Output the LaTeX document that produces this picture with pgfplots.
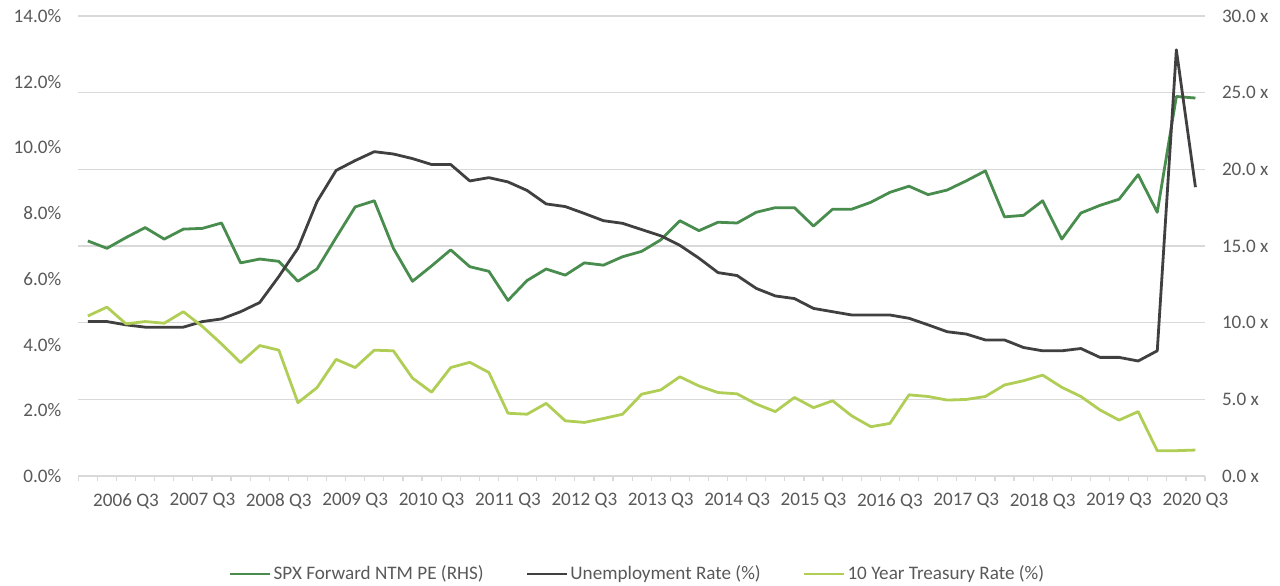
\documentclass[border=0pt]{standalone}
\usepackage{pgfplots}
\usepackage{pgfplotstable}
\pgfplotsset{compat=1.18}
\usepackage{fontspec}
\setmainfont{Carlito}
\definecolor{spx}{RGB}{72,140,78}
\definecolor{unemp}{RGB}{64,64,64}
\definecolor{tsy}{RGB}{176,206,85}
\definecolor{lbl}{RGB}{89,89,89}
\definecolor{grd}{RGB}{217,217,217}

\pgfplotstableread{
i spx unemp tsy
0 15.33 4.70 4.87
1 14.85 4.70 5.14
2 15.55 4.60 4.63
3 16.20 4.53 4.70
4 15.45 4.53 4.65
5 16.10 4.53 5.00
6 16.15 4.70 4.55
7 16.50 4.78 4.02
8 13.90 5.00 3.45
9 14.15 5.28 3.97
10 14.00 6.07 3.83
11 12.70 6.93 2.23
12 13.50 8.35 2.69
13 15.55 9.30 3.55
14 17.55 9.60 3.30
15 17.95 9.87 3.83
16 14.85 9.80 3.81
17 12.70 9.66 2.98
18 13.70 9.48 2.55
19 14.75 9.48 3.30
20 13.65 8.98 3.46
21 13.35 9.08 3.15
22 11.45 8.95 1.91
23 12.75 8.69 1.88
24 13.50 8.28 2.21
25 13.10 8.20 1.68
26 13.90 7.99 1.63
27 13.75 7.77 1.75
28 14.30 7.69 1.88
29 14.65 7.50 2.49
30 15.40 7.31 2.62
31 16.65 7.02 3.02
32 16.00 6.63 2.74
33 16.55 6.19 2.54
34 16.50 6.10 2.50
35 17.20 5.71 2.19
36 17.50 5.48 1.96
37 17.50 5.40 2.39
38 16.30 5.10 2.08
39 17.40 5.00 2.29
40 17.40 4.90 1.83
41 17.85 4.90 1.50
42 18.50 4.90 1.60
43 18.90 4.80 2.47
44 18.35 4.60 2.42
45 18.65 4.39 2.31
46 19.25 4.32 2.33
47 19.90 4.14 2.42
48 16.90 4.14 2.77
49 17.00 3.91 2.90
50 17.95 3.81 3.07
51 15.45 3.81 2.70
52 17.15 3.88 2.42
53 17.65 3.61 2.01
54 18.05 3.61 1.70
55 19.65 3.50 1.96
56 17.20 3.81 0.77
57 24.75 12.97 0.77
58 24.65 8.79 0.79
}\data

\begin{document}
\begin{tikzpicture}
\path[use as bounding box] (0,0) rectangle (640bp,293bp);
% right axis (SPX, gridlines, x axis, legend)
\begin{axis}[
  at={(39.15bp,55bp)}, anchor=south west,
  scale only axis, width=563.35bp, height=230bp,
  xmin=-0.5, xmax=58.5, ymin=0, ymax=30,
  axis x line*=bottom, axis y line*=right,
  x axis line style={draw=grd, line width=0.6bp, -},
  y axis line style={draw=none},
  xtick={2,6,...,58},
  xticklabels={2006 Q3,2007 Q3,2008 Q3,2009 Q3,2010 Q3,2011 Q3,2012 Q3,2013 Q3,2014 Q3,2015 Q3,2016 Q3,2017 Q3,2018 Q3,2019 Q3,2020 Q3},
  minor xtick={-0.5,0.5,...,58.5},
  tick align=outside,
  major x tick style={draw=none},
  minor x tick style={draw=grd, line width=0.6bp},
  minor tick length=2.5bp, major tick length=0pt,
  ytick={0,5,...,30},
  yticklabels={0.0 x,5.0 x,10.0 x,15.0 x,20.0 x,25.0 x,30.0 x},
  y tick style={draw=none},
  ymajorgrids, grid style={draw=grd, line width=0.6bp},
  tick label style={font=\fontsize{9.6}{11}\selectfont, text=lbl},
  xticklabel style={anchor=north, inner sep=0pt, yshift=-8.5bp},
  yticklabel style={anchor=west, inner sep=0pt, xshift=8.3bp},
  legend columns=3,
  legend style={at={(0.4963,-0.213)}, anchor=center, draw=none, fill=none,
    font=\fontsize{9.6}{11}\selectfont, text=lbl, inner sep=0pt,
    nodes={inner sep=1bp},
    /tikz/every even column/.append style={column sep=20bp}},
  legend image code/.code={\draw[#1] (0bp,0bp) -- (20bp,0bp);},
]
\addplot[spx, line width=1.4bp, line join=round] table[x=i, y=spx]{\data};
\addlegendentry{SPX Forward NTM PE (RHS)}
\addlegendimage{unemp, line width=1.4bp}
\addlegendentry{Unemployment Rate (\%)}
\addlegendimage{tsy, line width=1.4bp}
\addlegendentry{10 Year Treasury Rate (\%)}
\end{axis}
% left axis (percent series)
\begin{axis}[
  at={(39.15bp,55bp)}, anchor=south west,
  scale only axis, width=563.35bp, height=230bp,
  xmin=-0.5, xmax=58.5, ymin=0, ymax=14,
  axis x line=none, axis y line*=left,
  y axis line style={draw=none},
  ytick={0,2,...,14},
  yticklabels={0.0\%,2.0\%,4.0\%,6.0\%,8.0\%,10.0\%,12.0\%,14.0\%},
  y tick style={draw=none}, major tick length=0pt,
  tick label style={font=\fontsize{9.6}{11}\selectfont, text=lbl},
  yticklabel style={anchor=east, inner sep=0pt, xshift=-8.3bp},
]
\addplot[unemp, line width=1.4bp, line join=round] table[x=i, y=unemp]{\data};
\addplot[tsy, line width=1.4bp, line join=round] table[x=i, y=tsy]{\data};
\end{axis}
\end{tikzpicture}
\end{document}
